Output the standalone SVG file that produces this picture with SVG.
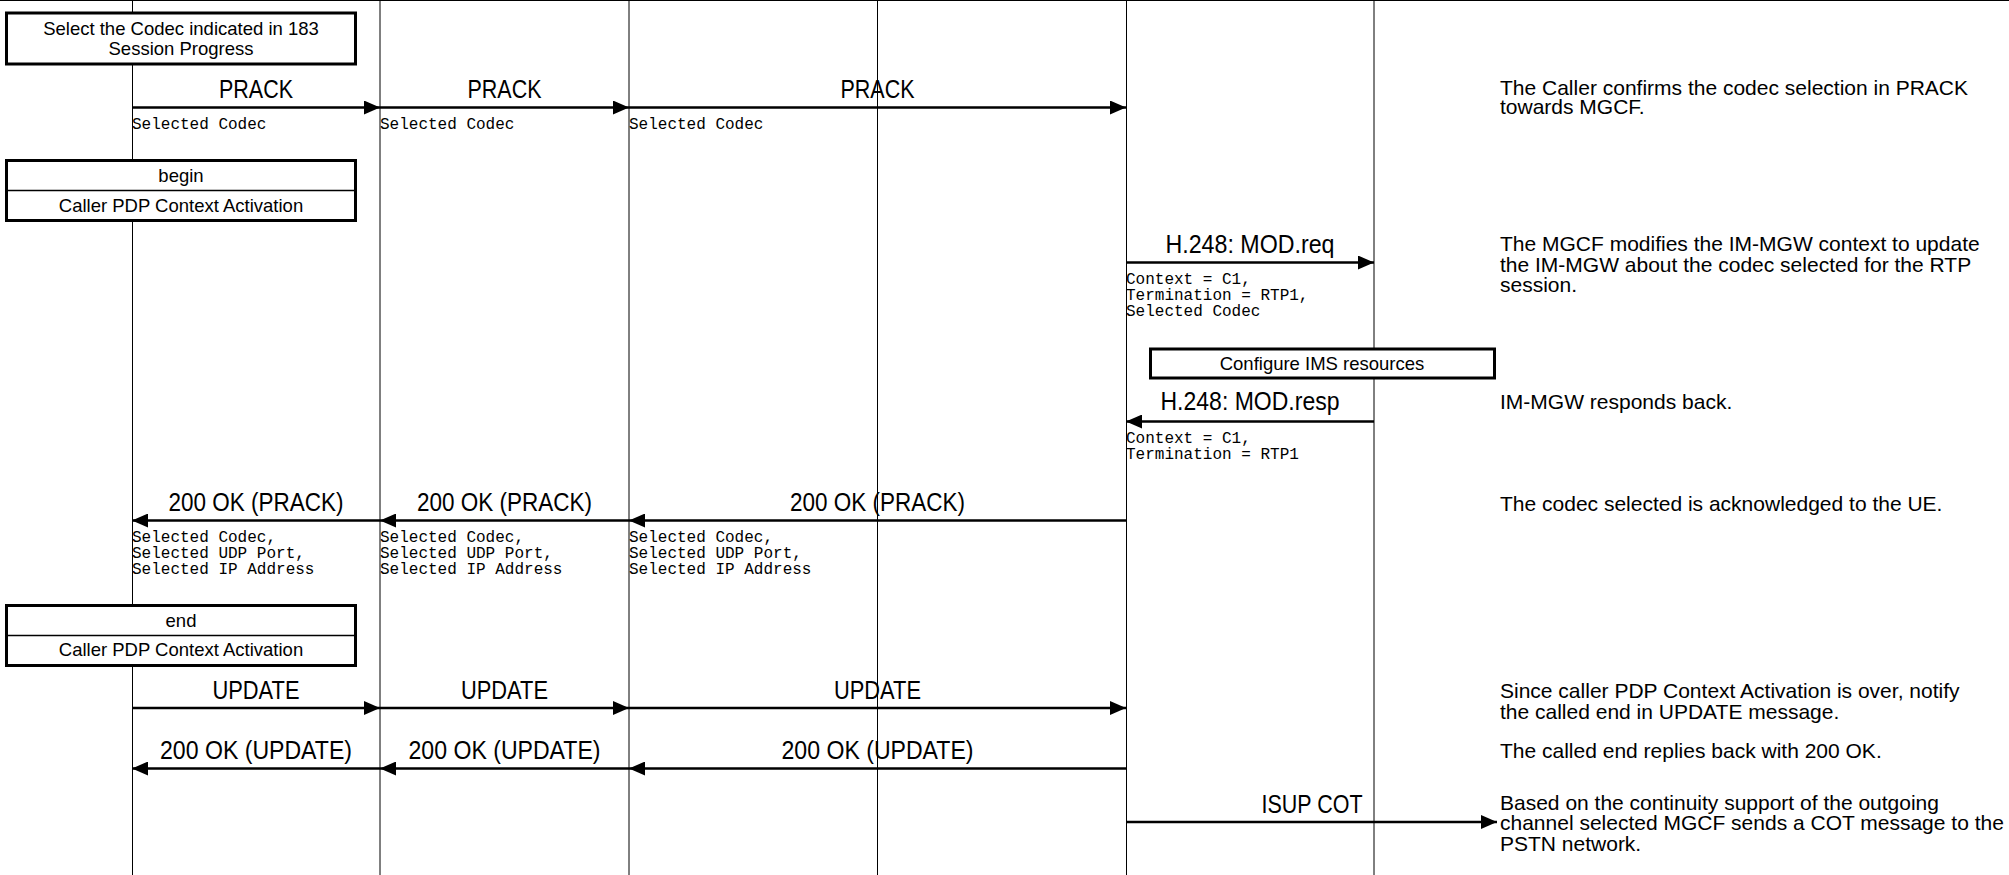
<svg xmlns="http://www.w3.org/2000/svg" width="2009" height="875" viewBox="0 0 2009 875">
<style>
.life{stroke:#000;stroke-width:1;fill:none}
.box{fill:#fff;stroke:#000;stroke-width:3}
.div{stroke:#000;stroke-width:1.5}
.btxt{font-family:"Liberation Sans",Arial,sans-serif;font-size:18.5px;fill:#000;text-anchor:middle}
.msg{stroke:#000;stroke-width:2.5;fill:none;marker-end:url(#ah)}
.lbl{font-family:"Liberation Sans Narrow","Liberation Sans",Arial,sans-serif;font-size:25px;fill:#000;text-anchor:middle}
.mono{font-family:"Liberation Mono","Courier New",monospace;font-size:16px;fill:#000}
.note{font-family:"Liberation Sans",Arial,sans-serif;font-size:21px;fill:#000}
</style>
<defs>
<marker id="ah" markerUnits="userSpaceOnUse" markerWidth="16" markerHeight="14" refX="16" refY="7" orient="auto">
<path d="M0,0 L16,7 L0,14 z" fill="#000"/>
</marker>
</defs>
<rect width="2009" height="875" fill="#fff"/>
<line x1="0" y1="0.5" x2="2009" y2="0.5" stroke="#000" stroke-width="1"/>
<g id="lifelines">
<g id="lifeline1"><line class="life" x1="132.5" y1="0" x2="132.5" y2="875"/></g>
<g id="lifeline2"><line class="life" x1="380" y1="0" x2="380" y2="875"/></g>
<g id="lifeline3"><line class="life" x1="629" y1="0" x2="629" y2="875"/></g>
<g id="lifeline4"><line class="life" x1="877.5" y1="0" x2="877.5" y2="875"/></g>
<g id="lifeline5"><line class="life" x1="1126.5" y1="0" x2="1126.5" y2="875"/></g>
<g id="lifeline6"><line class="life" x1="1374" y1="0" x2="1374" y2="875"/></g>
</g>
<g id="box-select-codec">
<rect class="box" x="6.5" y="13" width="349" height="51"/>
<text class="btxt" x="181" y="34.5">Select the Codec indicated in 183</text>
<text class="btxt" x="181" y="55">Session Progress</text>
</g>
<g id="box-begin">
<rect class="box" x="6.5" y="160.5" width="349" height="60"/>
<line class="div" x1="6.5" y1="190.5" x2="355.5" y2="190.5"/>
<text class="btxt" x="181" y="182">begin</text>
<text class="btxt" x="181" y="211.5">Caller PDP Context Activation</text>
</g>
<g id="box-configure">
<rect class="box" x="1150.5" y="349" width="344" height="29"/>
<text class="btxt" x="1322" y="370">Configure IMS resources</text>
</g>
<g id="box-end">
<rect class="box" x="6.5" y="605.5" width="349" height="60"/>
<line class="div" x1="6.5" y1="635.5" x2="355.5" y2="635.5"/>
<text class="btxt" x="181" y="627">end</text>
<text class="btxt" x="181" y="656">Caller PDP Context Activation</text>
</g>
<g id="connectors">
<line class="msg" x1="132" y1="107.5" x2="380" y2="107.5"/>
<line class="msg" x1="380" y1="107.5" x2="629" y2="107.5"/>
<line class="msg" x1="629" y1="107.5" x2="1126" y2="107.5"/>
<text class="lbl" x="256" y="97.5" textLength="74" lengthAdjust="spacingAndGlyphs">PRACK</text>
<text class="lbl" x="504.5" y="97.5" textLength="74" lengthAdjust="spacingAndGlyphs">PRACK</text>
<text class="lbl" x="877.5" y="97.5" textLength="74" lengthAdjust="spacingAndGlyphs">PRACK</text>
<text class="mono" x="132" y="129">Selected Codec</text>
<text class="mono" x="380" y="129">Selected Codec</text>
<text class="mono" x="629" y="129">Selected Codec</text>

<line class="msg" x1="1126" y1="262.5" x2="1374" y2="262.5"/>
<text class="lbl" x="1250" y="253" textLength="169" lengthAdjust="spacingAndGlyphs">H.248: MOD.req</text>
<text class="mono" x="1126" y="284">Context = C1,</text>
<text class="mono" x="1126" y="300">Termination = RTP1,</text>
<text class="mono" x="1126" y="316">Selected Codec</text>

<line class="msg" x1="1374" y1="421.5" x2="1126" y2="421.5"/>
<text class="lbl" x="1250" y="410" textLength="179" lengthAdjust="spacingAndGlyphs">H.248: MOD.resp</text>
<text class="mono" x="1126" y="443">Context = C1,</text>
<text class="mono" x="1126" y="459">Termination = RTP1</text>

<line class="msg" x1="380" y1="520.5" x2="132" y2="520.5"/>
<line class="msg" x1="629" y1="520.5" x2="380" y2="520.5"/>
<line class="msg" x1="1126" y1="520.5" x2="629" y2="520.5"/>
<text class="lbl" x="256" y="511" textLength="175" lengthAdjust="spacingAndGlyphs">200 OK (PRACK)</text>
<text class="lbl" x="504.5" y="511" textLength="175" lengthAdjust="spacingAndGlyphs">200 OK (PRACK)</text>
<text class="lbl" x="877.5" y="511" textLength="175" lengthAdjust="spacingAndGlyphs">200 OK (PRACK)</text>
<text class="mono" x="132" y="542">Selected Codec,</text>
<text class="mono" x="132" y="558">Selected UDP Port,</text>
<text class="mono" x="132" y="574">Selected IP Address</text>
<text class="mono" x="380" y="542">Selected Codec,</text>
<text class="mono" x="380" y="558">Selected UDP Port,</text>
<text class="mono" x="380" y="574">Selected IP Address</text>
<text class="mono" x="629" y="542">Selected Codec,</text>
<text class="mono" x="629" y="558">Selected UDP Port,</text>
<text class="mono" x="629" y="574">Selected IP Address</text>

<line class="msg" x1="132" y1="708" x2="380" y2="708"/>
<line class="msg" x1="380" y1="708" x2="629" y2="708"/>
<line class="msg" x1="629" y1="708" x2="1126" y2="708"/>
<text class="lbl" x="256" y="698.5" textLength="87" lengthAdjust="spacingAndGlyphs">UPDATE</text>
<text class="lbl" x="504.5" y="698.5" textLength="87" lengthAdjust="spacingAndGlyphs">UPDATE</text>
<text class="lbl" x="877.5" y="698.5" textLength="87" lengthAdjust="spacingAndGlyphs">UPDATE</text>

<line class="msg" x1="380" y1="768.5" x2="132" y2="768.5"/>
<line class="msg" x1="629" y1="768.5" x2="380" y2="768.5"/>
<line class="msg" x1="1126" y1="768.5" x2="629" y2="768.5"/>
<text class="lbl" x="256" y="758.5" textLength="192" lengthAdjust="spacingAndGlyphs">200 OK (UPDATE)</text>
<text class="lbl" x="504.5" y="758.5" textLength="192" lengthAdjust="spacingAndGlyphs">200 OK (UPDATE)</text>
<text class="lbl" x="877.5" y="758.5" textLength="192" lengthAdjust="spacingAndGlyphs">200 OK (UPDATE)</text>

<line class="msg" x1="1126" y1="822" x2="1497" y2="822"/>
<text class="lbl" x="1312" y="813" textLength="101" lengthAdjust="spacingAndGlyphs">ISUP COT</text>
</g>
<g id="notes">
<text class="note" x="1500" y="95">The Caller confirms the codec selection in PRACK</text>
<text class="note" x="1500" y="114">towards MGCF.</text>
<text class="note" x="1500" y="251">The MGCF modifies the IM-MGW context to update</text>
<text class="note" x="1500" y="271.5">the IM-MGW about the codec selected for the RTP</text>
<text class="note" x="1500" y="292">session.</text>
<text class="note" x="1500" y="409">IM-MGW responds back.</text>
<text class="note" x="1500" y="511">The codec selected is acknowledged to the UE.</text>
<text class="note" x="1500" y="698">Since caller PDP Context Activation is over, notify</text>
<text class="note" x="1500" y="718.5">the called end in UPDATE message.</text>
<text class="note" x="1500" y="758">The called end replies back with 200 OK.</text>
<text class="note" x="1500" y="809.5">Based on the continuity support of the outgoing</text>
<text class="note" x="1500" y="830">channel selected MGCF sends a COT message to the</text>
<text class="note" x="1500" y="850.5">PSTN network.</text>
</g>
</svg>
